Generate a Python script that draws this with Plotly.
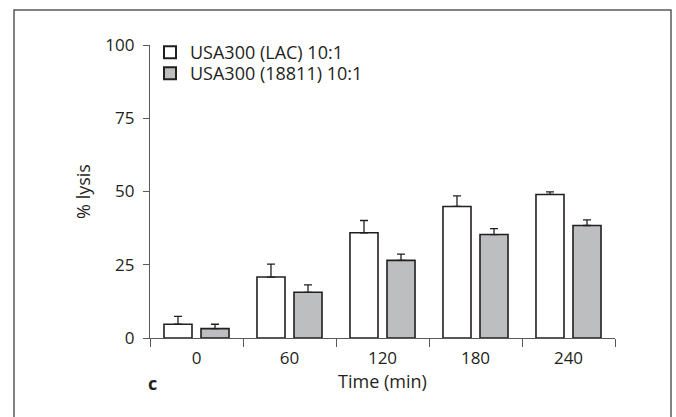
import plotly.graph_objects as go

categories = ["0", "60", "120", "180", "240"]
lac_values = [4.7, 20.8, 35.9, 44.9, 49.0]
lac_errors = [2.7, 4.4, 4.2, 3.6, 0.9]
s18811_values = [3.2, 15.6, 26.5, 35.3, 38.4]
s18811_errors = [1.5, 2.5, 2.1, 2.0, 1.9]
y_ticks = [0, 25, 50, 75, 100]

ink = "#231f20"
axis_gray = "#58595b"
font_family = "Open Sans, Liberation Sans, Arial, sans-serif"

fig = go.Figure()
fig.add_trace(go.Bar(
    x=categories, y=lac_values, name="USA300 (LAC) 10:1", legend="legend",
    marker=dict(color="#ffffff", line=dict(color=ink, width=1.6)),
    error_y=dict(type="data", array=lac_errors, arrayminus=[0]*5, symmetric=False,
                 color=ink, thickness=1.3, width=4),
))
fig.add_trace(go.Bar(
    x=categories, y=s18811_values, name="USA300 (18811) 10:1", legend="legend2",
    marker=dict(color="#bcbec0", line=dict(color=ink, width=1.6)),
    error_y=dict(type="data", array=s18811_errors, arrayminus=[0]*5, symmetric=False,
                 color=ink, thickness=1.3, width=4),
))

W, H = 676, 417
L, R, T, B = 150, 61, 45, 79
pw, ph = W - L - R, H - T - B

def px_x(px):
    return (px - L) / pw

def px_y(py):
    return (H - B - py) / ph

legend_style = dict(xanchor="left", yanchor="top", bgcolor="rgba(0,0,0,0)", borderwidth=0,
                    font=dict(family=font_family, size=18, color=ink), itemsizing="constant")

fig.update_layout(
    width=W, height=H,
    margin=dict(l=L, r=R, t=T, b=B, pad=0),
    paper_bgcolor="white", plot_bgcolor="white",
    font=dict(family=font_family, size=17, color=ink),
    barmode="group", bargap=0.204, bargroupgap=0.243,
    showlegend=True,
    legend=dict(x=px_x(150), y=px_y(34), **legend_style),
    legend2=dict(x=px_x(150), y=px_y(55), **legend_style),
    xaxis=dict(
        type="category", range=[-0.5, 4.5],
        showline=True, linecolor=axis_gray, linewidth=1.3,
        ticks="outside", tickson="boundaries", ticklen=8, tickcolor=axis_gray, tickwidth=1.3,
        showgrid=False, zeroline=False,
        tickfont=dict(size=17, color=ink),
        ticklabelstandoff=4,
        title=dict(text="Time (min)", font=dict(size=18, color=ink), standoff=5),
    ),
    yaxis=dict(
        range=[0, 100], tickvals=y_ticks,
        showline=True, linecolor=axis_gray, linewidth=1.3,
        ticks="outside", ticklen=6, tickcolor=axis_gray, tickwidth=1.3,
        showgrid=False, zeroline=False,
        tickfont=dict(size=17, color=ink),
        ticklabelstandoff=5,
        title=dict(text="% lysis", font=dict(size=18, color=ink), standoff=9),
    ),
    shapes=[
        dict(type="rect", xref="paper", yref="paper",
             x0=px_x(14), x1=px_x(671), y0=px_y(430), y1=px_y(10),
             line=dict(color=axis_gray, width=1.5), fillcolor="rgba(0,0,0,0)", layer="below"),
    ],
    annotations=[
        dict(text="<b>c</b>", xref="paper", yref="paper", x=px_x(152), y=px_y(383),
             xanchor="center", yanchor="middle", showarrow=False,
             font=dict(size=18, color=ink, family=font_family)),
    ],
)

fig.write_html("out.html")
